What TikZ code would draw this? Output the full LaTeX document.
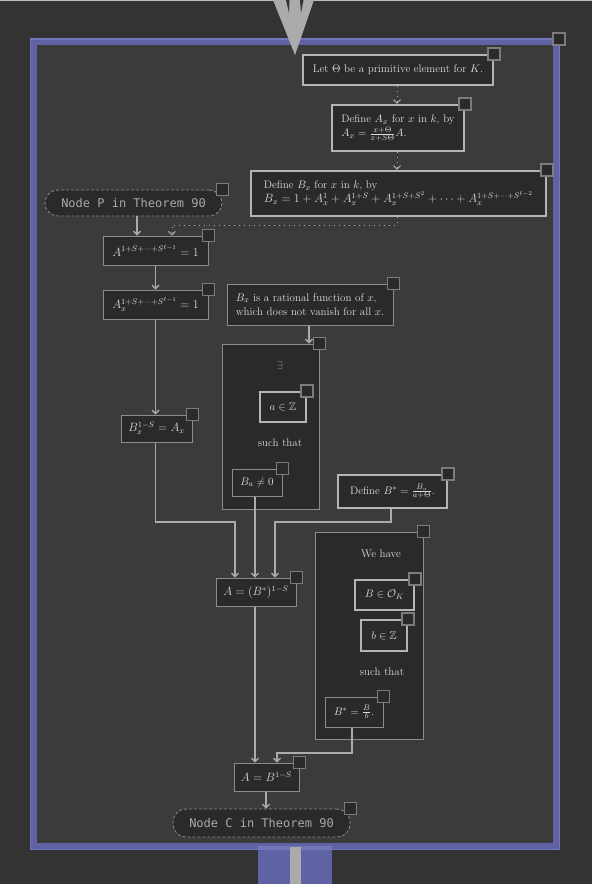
\documentclass[tikz,border=0pt]{standalone}
\usepackage{amsmath,amssymb}
\usepackage{fontspec}
\newfontfamily\monofont{DejaVu Sans Mono}
\usetikzlibrary{arrows.meta,calc}
\definecolor{bgout}{HTML}{333333}
\definecolor{bgin}{HTML}{3B3B3B}
\definecolor{boxfill}{HTML}{2A2A2A}
\definecolor{thickc}{HTML}{B4B4B4}
\definecolor{thinc}{HTML}{8C8C8C}
\definecolor{txt}{HTML}{DCDCDC}
\definecolor{edgec}{HTML}{ABABAB}
\definecolor{framec}{HTML}{5F63A3}
\definecolor{framehl}{HTML}{7276BA}
\definecolor{monoc}{HTML}{A8A8A8}
\definecolor{sqc}{HTML}{7C7C7C}
\definecolor{dimtxt}{HTML}{999999}
\tikzset{
 base/.style={rectangle, fill=boxfill, text=txt, inner sep=0pt, font=\fontsize{11}{14}\selectfont},
 thickbox/.style={base, draw=thickc, line width=2.5pt},
 thinbox/.style={base, draw=thinc, line width=1pt},
 groupbox/.style={base, draw=thinc, line width=1pt},
 termbox/.style={base, draw=thinc, dash pattern=on 3pt off 2pt, line width=0.8pt, rounded corners=13pt, text=monoc, font=\monofont\fontsize{12}{14}\selectfont},
 marker/.style={rectangle, minimum size=12pt, inner sep=0pt, fill=boxfill, draw=sqc, line width=1.6pt},
 arr/.style={draw=edgec, line width=1.3pt, -{Straight Barb[length=3.5pt,width=7pt]}},
 dotarr/.style={draw=edgec, line width=1pt, dash pattern=on 1pt off 4pt, -{Straight Barb[length=3.5pt,width=7pt]}},
 plain/.style={text=txt, inner sep=0pt, font=\fontsize{11}{14}\selectfont},
 bigmath/.style={font=\fontsize{11.6}{14}\selectfont},
}
\begin{document}
\begin{tikzpicture}[x=1pt,y=-1pt]
\useasboundingbox (0,0) rectangle (592,884);
\fill[bgout] (0,0) rectangle (592,884);
\draw[color={rgb,255:red,190;green,190;blue,198}, line width=1pt] (0,0.5) -- (592,0.5);
% frame
\node[draw=framec, line width=6.5pt, fill=bgin, minimum width=522.5pt, minimum height=804pt, inner sep=0pt] (frame) at (294.75,444) {};
\draw[framehl, line width=1.5pt] (frame.north west) rectangle (frame.south east);
% bottom connector block
\fill[framec] (258,849) rectangle (332,884);
\fill[framehl] (258,846) rectangle (332,850);
\fill[edgec] (290,847) rectangle (301,884);
% top big arrow
\fill[edgec] (273,0) -- (314,0) -- (295,55) -- cycle;
\fill[bgout] (286,0) -- (289.5,0) -- (289,13) -- cycle;
\fill[bgout] (300,0) -- (303.5,0) -- (301,13) -- cycle;
% containers
\node[groupbox, minimum width=97pt, minimum height=165pt] (g1) at (270.5,426.5) {};
\node[groupbox, minimum width=108pt, minimum height=207pt] (g2) at (369,635.5) {};
% nodes
\node[thickbox, minimum width=190pt, minimum height=30pt] (n1) at (398,70) {Let $\Theta$ be a primitive element for $K$.};
\node[thickbox, minimum width=132pt, minimum height=46pt, align=left] (n2) at (398,128) {Define $A_x$ for $x$ in $k$, by\\$A_x=\frac{x+\Theta}{x+S\Theta}A$.};
\node[thickbox, minimum width=295pt, minimum height=45pt, align=left] (n3) at (398.5,193.5) {Define $B_x$ for $x$ in $k$, by\\{\fontsize{11.8}{14}\selectfont$B_x=1+A_x^1+A_x^{1+S}+A_x^{1+S+S^2}+\cdots+A_x^{1+S+\cdots+S^{\ell-2}}$}};
\node[termbox, minimum width=177pt, minimum height=26pt] (nP) at (133.5,203) {Node P in Theorem 90};
\node[thinbox, bigmath, minimum width=105pt, minimum height=29pt] (n5) at (155.5,250.5) {$A^{1+S+\cdots+S^{\ell-1}}=1$};
\node[thinbox, bigmath, minimum width=105pt, minimum height=29pt] (n6) at (155.5,304.5) {$A_x^{1+S+\cdots+S^{\ell-1}}=1$};
\node[thinbox, minimum width=166pt, minimum height=41pt, align=left] (n7) at (310,304.5) {$B_x$ is a rational function of $x$,\\which does not vanish for all $x$.};
\node[plain, text=dimtxt] (ex) at (280,366) {$\exists$};
\node[thickbox, minimum width=46pt, minimum height=30pt] (az) at (283,407) {$a\in\mathbb{Z}$};
\node[plain] (st1) at (280,443) {such that};
\node[thinbox, minimum width=50pt, minimum height=27pt] (ba) at (257,482.5) {$B_a\neq 0$};
\node[thinbox, bigmath, minimum width=71pt, minimum height=27pt] (n9) at (156.5,428.5) {$B_x^{1-S}=A_x$};
\node[thickbox, minimum width=109pt, minimum height=33pt] (n10) at (392.5,491.5) {Define $B^*=\frac{B_a}{a+\Theta}$.};
\node[plain] (wh) at (381,554) {We have};
\node[thickbox, minimum width=59pt, minimum height=30pt] (bo) at (384.5,595) {$B\in\mathcal{O}_K$};
\node[thickbox, minimum width=46pt, minimum height=31pt] (bz) at (384,635.5) {$b\in\mathbb{Z}$};
\node[plain] (st2) at (382,672) {such that};
\node[thinbox, minimum width=58pt, minimum height=30pt] (bb) at (354,712) {$B^*=\frac{B}{b}$.};
\node[thinbox, bigmath, minimum width=80pt, minimum height=28pt] (n12) at (256,592) {$A=(B^*)^{1-S}$};
\node[thinbox, bigmath, minimum width=65pt, minimum height=28pt] (n13) at (266.5,777) {$A=B^{1-S}$};
\node[termbox, minimum width=177pt, minimum height=28pt] (nC) at (261.5,823) {Node C in Theorem 90};
% helper coordinates
\coordinate (d1) at (397,225);
\coordinate (xd) at (172,0);
\coordinate (xP) at (137,0);
\coordinate (x7) at (309,0);
\coordinate (j1) at (235,522);
\coordinate (x255) at (255,0);
\coordinate (j2) at (275,522);
\coordinate (x391) at (391,0);
\coordinate (j3) at (277,753);
\coordinate (x352) at (352,0);
\coordinate (x266) at (266,0);
% connectors
\draw[dotarr] (n1.south -| d1) -- (n2.north -| d1);
\draw[dotarr] (n2.south -| d1) -- (n3.north -| d1);
\draw[dotarr] (n3.south -| d1) -- (d1) -| (n5.north -| xd);
\draw[arr] (nP.south -| xP) -- (n5.north -| xP);
\draw[arr] (n5.south) -- (n6.north);
\draw[arr] (n6.south) -- (n6.south |- n9.north);
\draw[arr] (n7.south -| x7) -- (g1.north -| x7);
\draw[arr] (n9.south -| n6.south) |- (j1) -- (n12.north -| j1);
\draw[arr] (ba.south -| x255) -- (n12.north -| x255);
\draw[arr] (n10.south -| x391) |- (j2) -- (n12.north -| j2);
\draw[arr] (n12.south -| x255) -- (n13.north -| x255);
\draw[arr] (bb.south -| x352) |- (j3) -- (n13.north -| j3);
\draw[arr] (n13.south -| x266) -- (nC.north -| x266);
% markers
\foreach \n in {frame,n1,n2,n3,nP,n5,n6,n7,g1,az,ba,n9,n10,g2,bo,bz,bb,n12,n13,nC}
  \node[marker] (m-\n) at (\n.north east) {};
\end{tikzpicture}
\end{document}
